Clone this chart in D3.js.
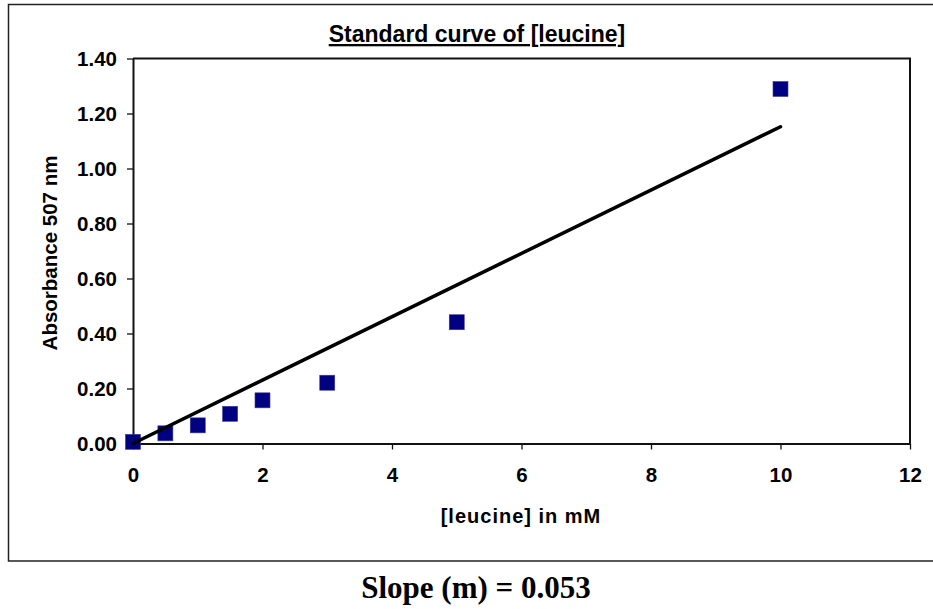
<!DOCTYPE html>
<html>
<head>
<meta charset="utf-8">
<script src="https://cdn.jsdelivr.net/npm/d3@7.9.0/dist/d3.min.js"></script>
<style>
  body { margin: 0; background: #fff; }
  svg { display: block; font-family: Arial, "Liberation Sans", sans-serif; }
</style>
</head>
<body>
<svg id="chart" width="933" height="609"></svg>
<script>
// leucine standards (mM) and absorbance at 507 nm
const conc = [0, 0.5, 1, 1.5, 2, 3, 5, 10];
const absorbance = [0.006, 0.037, 0.066, 0.108, 0.157, 0.221, 0.441, 1.289];
// trend line ends
const fitX = [0, 10];
const fitY = [0, 1.152];
const xTicks = [0, 2, 4, 6, 8, 10, 12];
const yTicks = [0, 0.2, 0.4, 0.6, 0.8, 1.0, 1.2, 1.4];

const svg = d3.select('#chart');

// outer chart border
svg.append('rect')
  .attr('x', 8.5).attr('y', 4.5)
  .attr('width', 930).attr('height', 556.5)
  .attr('fill', 'none').attr('stroke', '#222').attr('stroke-width', 1.5);

const plotL = 133, plotR = 910, plotT = 58.5, plotB = 443.5;

let x = d3.scaleLinear().domain([0, 12]).range([plotL, plotR]);
let y = d3.scaleLinear().domain([0, 1.4]).range([plotB, plotT]);

// plot area frame (top/right)
svg.append('path')
  .attr('d', `M${plotL},${plotT}H${plotR}V${plotB}`)
  .attr('fill', 'none').attr('stroke', '#111').attr('stroke-width', 2);

let xAxis = svg.append('g')
  .attr('transform', `translate(0,${plotB})`)
  .call(d3.axisBottom(x).tickValues(xTicks).tickSize(6).tickSizeOuter(0).tickPadding(18).tickFormat(d3.format('d')));

let yAxis = svg.append('g')
  .attr('transform', `translate(${plotL},0)`)
  .call(d3.axisLeft(y).tickValues(yTicks).tickSize(6).tickSizeOuter(0).tickPadding(10).tickFormat(d3.format('.2f')));

[xAxis, yAxis].forEach(g => {
  g.select('.domain').attr('stroke', '#111').attr('stroke-width', 2);
  g.selectAll('.tick line').attr('stroke', '#111').attr('stroke-width', 1.3);
  g.selectAll('.tick text')
    .attr('font-size', 20.5).attr('font-weight', 'bold')
    .attr('font-family', 'Arial, "Liberation Sans", sans-serif')
    .attr('fill', '#000');
});

// markers
const sz = 15;
svg.append('g').selectAll('rect')
  .data(conc)
  .join('rect')
  .attr('x', (d) => x(d) - sz / 2)
  .attr('y', (d, i) => y(absorbance[i]) - sz / 2)
  .attr('width', sz).attr('height', sz)
  .attr('fill', '#000080')
  .attr('stroke', '#3a3a9a').attr('stroke-width', 0.6);

// trend line
let line = d3.line().x((d) => x(d[0])).y((d) => y(d[1]));
svg.append('path')
  .datum(d3.zip(fitX, fitY))
  .attr('d', line)
  .attr('fill', 'none').attr('stroke', '#000').attr('stroke-width', 3.5)
  .attr('stroke-linecap', 'round');

// title
svg.append('text')
  .attr('x', 477).attr('y', 42)
  .attr('text-anchor', 'middle')
  .attr('font-size', 23).attr('font-weight', 'bold')
  .attr('text-decoration', 'underline')
  .text('Standard curve of [leucine]');

// axis titles
svg.append('text')
  .attr('transform', 'translate(57,253) rotate(-90)')
  .attr('text-anchor', 'middle')
  .attr('font-size', 20.5).attr('font-weight', 'bold')
  .text('Absorbance 507 nm');

svg.append('text')
  .attr('x', 521).attr('y', 523)
  .attr('text-anchor', 'middle')
  .attr('font-size', 20).attr('font-weight', 'bold')
  .attr('letter-spacing', 1)
  .text('[leucine] in mM');

// slope note below the chart
svg.append('text')
  .attr('x', 476).attr('y', 598)
  .attr('text-anchor', 'middle')
  .attr('font-family', '"Liberation Serif", "Times New Roman", serif')
  .attr('font-size', 31).attr('font-weight', 'bold')
  .text('Slope (m) = 0.053');
</script>
</body>
</html>
